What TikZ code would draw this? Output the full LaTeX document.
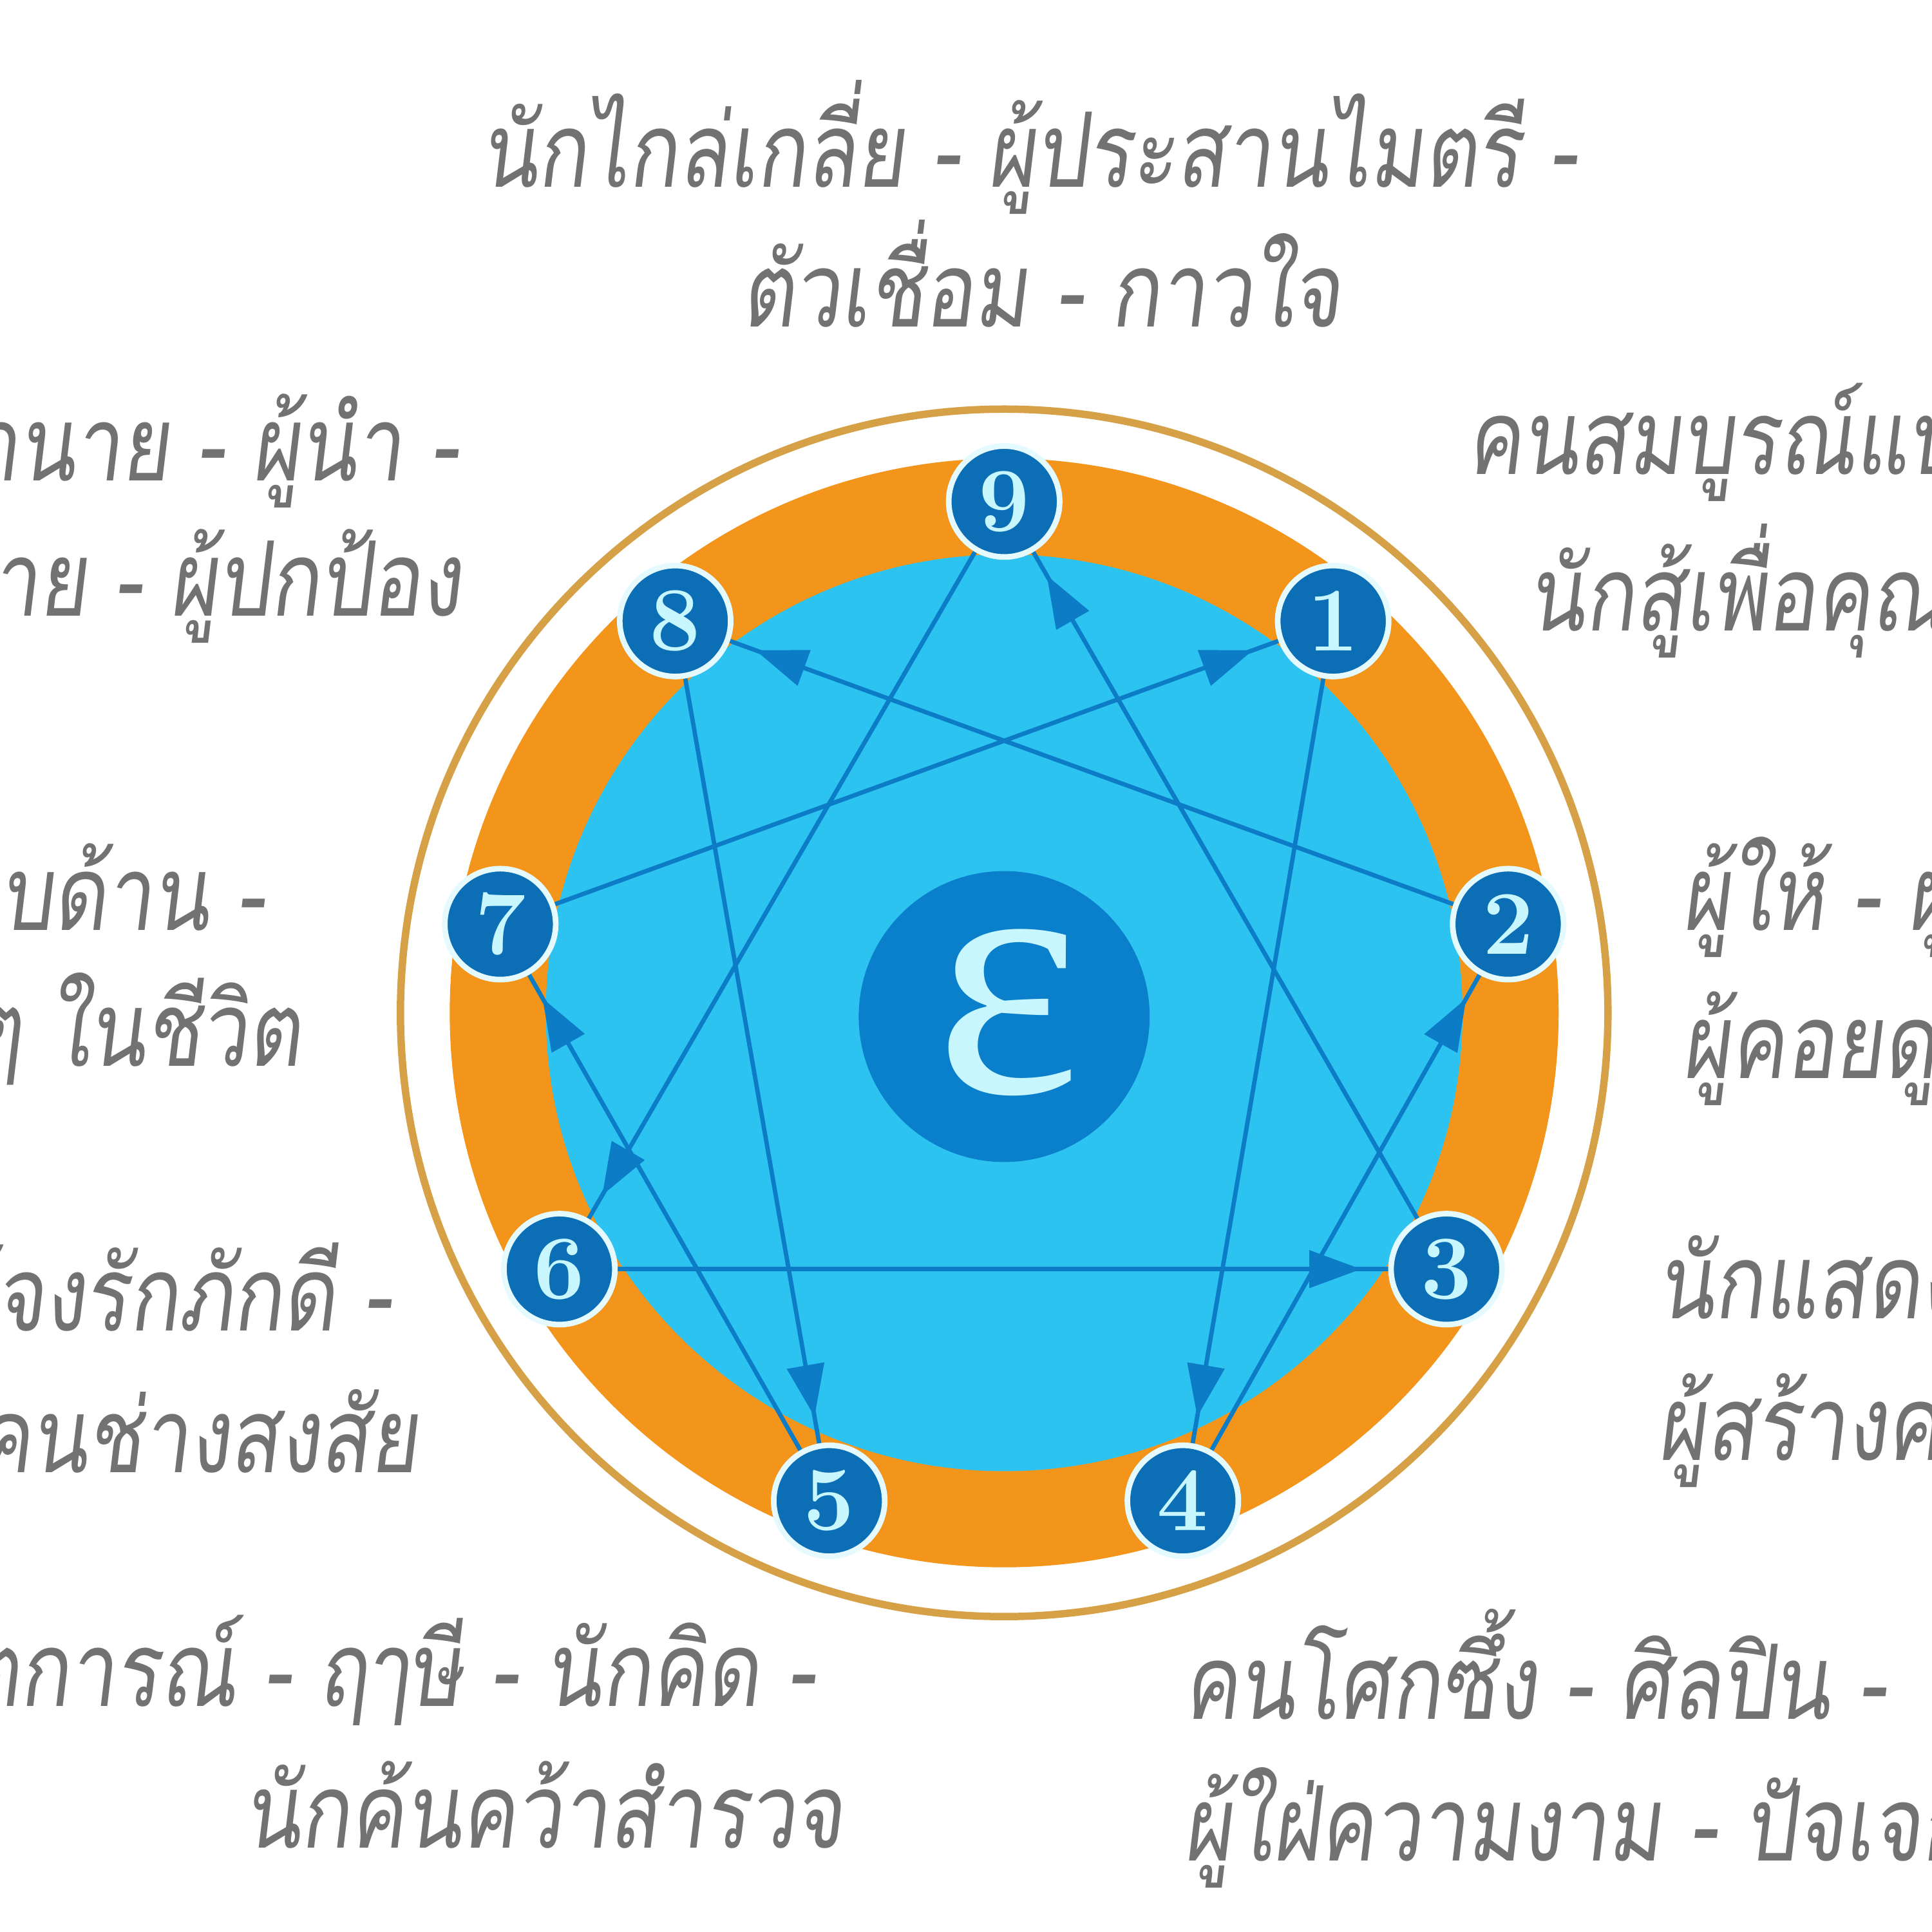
\documentclass[tikz,border=0pt]{standalone}
\usepackage{fontspec}
\newfontfamily\thaifont[Script=Thai,FakeSlant=0.12,FakeStretch=0.79]{Loma}
\newfontfamily\epsfont{Liberation Serif}
\usetikzlibrary{arrows.meta,decorations.markings}
\definecolor{ringgold}{HTML}{D6A046}
\definecolor{bandorange}{HTML}{F3951A}
\definecolor{skyblue}{HTML}{2CC3F1}
\definecolor{deepblue}{HTML}{0C6FB5}
\definecolor{centerblue}{HTML}{0A7FCB}
\definecolor{linkblue}{HTML}{0B7CC5}
\definecolor{digitcyan}{HTML}{C8F6FF}
\definecolor{labelgray}{HTML}{727272}
\pgfdeclarelayer{rings}
\pgfdeclarelayer{links}
\pgfsetlayers{rings,links,main}
\begin{document}
\begin{tikzpicture}[x=0.01cm,y=-0.01cm,
  typenode/.style={circle, fill=deepblue, draw=digitcyan!50!white, line width=1.3pt,
    minimum size=0.9cm, inner sep=0pt, text=digitcyan,
    font=\fontsize{21}{21}\selectfont\bfseries},
  link/.style={draw=linkblue, line width=1pt, postaction={decorate},
    decoration={markings, mark=at position -0.22cm with
      {\arrow[linkblue]{Triangle[length=0.42cm,width=0.3cm]}}}},
  lbl/.style={text=labelgray, font=\thaifont\fontsize{24}{31}\selectfont, inner sep=0pt},
]
\useasboundingbox (0,0) rectangle (1568,1568);
\begin{pgfonlayer}{rings}
\fill[white] (0,0) rectangle (1568,1568);
\draw[ringgold, line width=0.06cm] (815,822) circle[radius=490];
\fill[bandorange] (815,822) circle[radius=450];
\fill[skyblue] (815,822) circle[radius=372];
\end{pgfonlayer}
% centre
\node[circle, fill=centerblue, minimum size=2.36cm, inner sep=0pt] (ctr) at (815,825) {};
\node[text=digitcyan, font=\epsfont\fontsize{80}{80}\selectfont, inner sep=0pt] (eps) at (818,822) {ε};
% type nodes
\node[typenode] (n9) at (815,407) {9};
\node[typenode] (n1) at (1082,504) {1};
\node[typenode] (n2) at (1224,750) {2};
\node[typenode] (n3) at (1174,1030) {3};
\node[typenode] (n4) at (960,1218) {4};
\node[typenode] (n5) at (673,1218) {5};
\node[typenode] (n6) at (454,1030) {6};
\node[typenode] (n7) at (406,750) {7};
\node[typenode] (n8) at (548,504) {8};
% connectors
\begin{pgfonlayer}{links}
\path[link] (n9) -- (n6);
\path[link] (n6) -- (n3);
\path[link] (n3) -- (n9);
\path[link] (n1) -- (n4);
\path[link] (n4) -- (n2);
\path[link] (n2) -- (n8);
\path[link] (n8) -- (n5);
\path[link] (n5) -- (n7);
\path[link] (n7) -- (n1);
\end{pgfonlayer}
% labels
\node[lbl, anchor=base] (t9a) at (835,152) {นักไกล่เกลี่ย - ผู้ประสานไมตรี -};
\node[lbl, anchor=base] (t9b) at (845,265) {ตัวเชื่อม - กาวใจ};
\node[lbl, anchor=base east] (t8a) at (372,390) {เจ้านาย - ผู้นำ -};
\node[lbl, anchor=base east] (t8b) at (375,500) {ผู้ท้าทาย - ผู้ปกป้อง};
\node[lbl, anchor=base west] (t1a) at (1190,385) {คนสมบูรณ์แบบ -};
\node[lbl, anchor=base west] (t1b) at (1240,512) {นักสู้เพื่อคุณธรรม};
\node[lbl, anchor=base east] (t7a) at (215,755) {ผู้รอบด้าน -};
\node[lbl, anchor=base east] (t7b) at (245,865) {ผู้แสวงหาสิ่งดีๆ ในชีวิต};
\node[lbl, anchor=base west] (t2a) at (1365,755) {ผู้ให้ - ผู้ช่วยเหลือ -};
\node[lbl, anchor=base west] (t2b) at (1365,875) {ผู้คอยดูแล};
\node[lbl, anchor=base east] (t6a) at (318,1080) {ผู้จงรักภักดี -};
\node[lbl, anchor=base east] (t6b) at (340,1195) {คนช่างสงสัย};
\node[lbl, anchor=base west] (t3a) at (1345,1070) {นักแสดง - ผู้ใฝ่สำเร็จ -};
\node[lbl, anchor=base west] (t3b) at (1345,1185) {ผู้สร้างความสำเร็จ};
\node[lbl, anchor=base east] (t5a) at (662,1385) {นักสังเกตการณ์ - ฤๅษี - นักคิด -};
\node[lbl, anchor=base east] (t5b) at (685,1500) {นักค้นคว้าสำรวจ};
\node[lbl, anchor=base west] (t4a) at (960,1395) {คนโศกซึ้ง - ศิลปิน -};
\node[lbl, anchor=base west] (t4b) at (960,1510) {ผู้ใฝ่ความงาม - ปัจเจกบุคคล};
\end{tikzpicture}
\end{document}
